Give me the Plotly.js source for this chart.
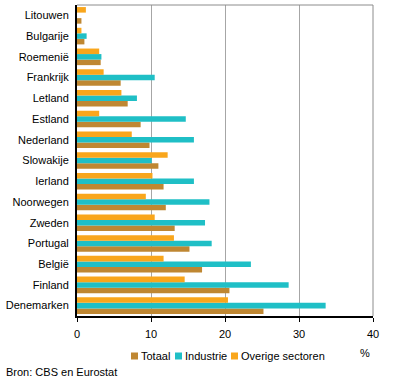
<!DOCTYPE html>
<html><head><meta charset="utf-8">
<script src="https://cdn.plot.ly/plotly-3.0.1.min.js"></script>
<style>body{margin:0;background:#fff}#c{width:396px;height:383px}</style>
</head><body><div id="c"></div>
<script>
const countries = ["Denemarken","Finland","België","Portugal","Zweden","Noorwegen","Ierland","Slowakije","Nederland","Estland","Letland","Frankrijk","Roemenië","Bulgarije","Litouwen"];
const totaal    = [25.2, 20.6, 16.9, 15.2, 13.2, 12.0, 11.7, 11.0, 9.8, 8.6, 6.85, 5.9, 3.2, 1.0, 0.6];
const industrie = [33.6, 28.6, 23.5, 18.2, 17.3, 17.9, 15.8, 10.1, 15.8, 14.7, 8.1, 10.5, 3.3, 1.3, 0];
const overige   = [20.4, 14.55, 11.7, 13.1, 10.5, 9.3, 10.2, 12.25, 7.4, 3.0, 6.0, 3.6, 3.0, 0.6, 1.2];
const seriesNames = ["Totaal", "Industrie", "Overige sectoren"];
const colors = ["#bf8732", "#1fbfc6", "#f9a61c"];
const xTicks = [0, 10, 20, 30, 40];

const font = {family: "Liberation Sans, Arial, sans-serif", size: 11, color: "#000"};
const W = 396, H = 383, L = 77, R = 23, T = 5, B = 67;
const pw = W - L - R, ph = H - T - B;
const px = v => (v - L) / pw;          // pixel x -> paper
const py = v => (H - B - v) / ph;      // pixel y -> paper

function tr(i, vals){
  return {type: "bar", orientation: "h", name: seriesNames[i], y: countries, x: vals,
    marker: {color: colors[i], line: {width: 0}}, hoverinfo: "skip", showlegend: false};
}
const data = [tr(0, totaal), tr(1, industrie), tr(2, overige)];

// custom legend (swatch + label)
const legX = [131, 175, 231];
const shapes = [
  {type: "line", xref: "paper", yref: "paper", x0: 0, x1: 1, y0: 1, y1: 1, line: {color: "#8c8c8c", width: 1}},
  {type: "line", xref: "paper", yref: "paper", x0: 1, x1: 1, y0: 0, y1: 1, line: {color: "#8c8c8c", width: 1}}
];
const annotations = [
  {text: "%", xref: "paper", yref: "paper", x: px(365), y: py(353), xanchor: "center", yanchor: "middle", showarrow: false, font: font},
  {text: "Bron: CBS en Eurostat", xref: "paper", yref: "paper", x: px(4), y: py(372), xanchor: "left", yanchor: "middle", showarrow: false, font: font}
];
seriesNames.forEach((n, i) => {
  shapes.push({type: "rect", xref: "paper", yref: "paper", x0: px(legX[i]), x1: px(legX[i] + 7),
    y0: py(359.5), y1: py(352.5), fillcolor: colors[i], line: {width: 0}});
  annotations.push({text: n, xref: "paper", yref: "paper", x: px(legX[i] + 8.5), y: py(356),
    xanchor: "left", yanchor: "middle", showarrow: false, font: font, borderpad: 0});
});

const layout = {
  width: W, height: H,
  margin: {l: L, r: R, t: T, b: B},
  paper_bgcolor: "#fff", plot_bgcolor: "#fff",
  font: font,
  barmode: "group", bargap: 0.2, bargroupgap: 0,
  showlegend: false,
  xaxis: {range: [0, 40], tickvals: xTicks, ticktext: xTicks.map(String),
    showgrid: true, gridcolor: "#a6a6a6", gridwidth: 1,
    showline: true, linecolor: "#000", linewidth: 2,
    ticks: "outside", ticklen: 4, tickcolor: "#000", tickwidth: 1,
    ticklabelstandoff: 3, automargin: false,
    zeroline: false, fixedrange: true, tickfont: font},
  yaxis: {type: "category", categoryorder: "array", categoryarray: countries,
    showline: true, linecolor: "#000", linewidth: 2, ticks: "", showgrid: false, automargin: false,
    zeroline: false, fixedrange: true, tickfont: font, ticklabelstandoff: 4},
  shapes: shapes,
  annotations: annotations
};
Plotly.newPlot("c", data, layout, {displayModeBar: false, staticPlot: true});
</script></body></html>
